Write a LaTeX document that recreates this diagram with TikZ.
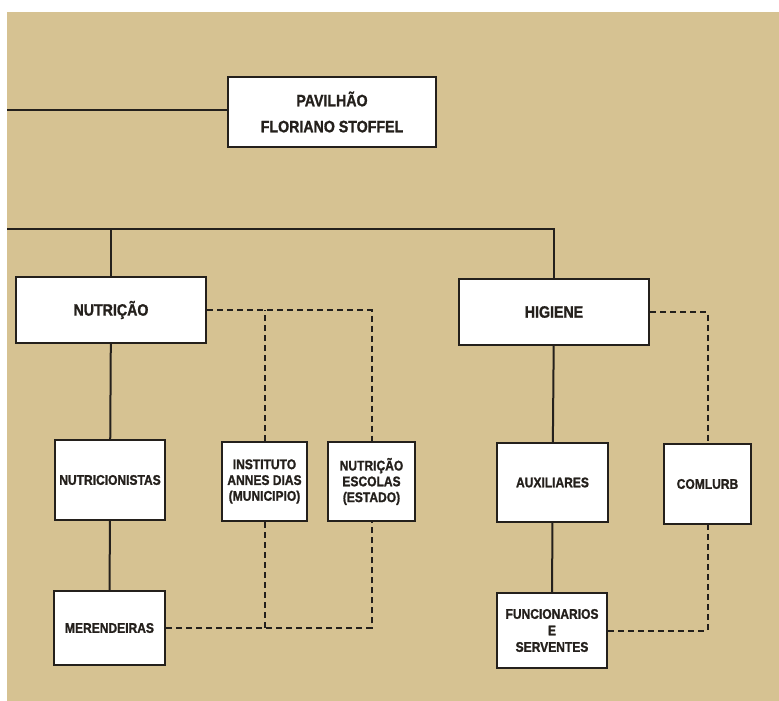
\documentclass[tikz,border=0pt]{standalone}
\usepackage{fontspec}
\setmainfont[FakeStretch=0.86,BoldFeatures={FakeBold=1.2}]{Liberation Sans}
\definecolor{tan}{RGB}{214,194,146}
\definecolor{ink}{RGB}{36,32,28}
\begin{document}
\begin{tikzpicture}[x=1pt,y=-1pt,
  box/.style={draw=ink,line width=2.3pt,fill=white,inner sep=0pt,align=center,
    font=\bfseries\fontsize{14}{15.8}\selectfont,text=ink},
  bigbox/.style={box,font=\bfseries\fontsize{16.5}{26}\selectfont},
  solidline/.style={draw=ink,line width=2pt},
  dashline/.style={draw=ink,line width=2pt,dash pattern=on 6pt off 4pt}]
\useasboundingbox (0,0) rectangle (779,701);
\fill[white] (0,0) rectangle (779,701);
\fill[tan] (7,12) rectangle (779,701);
% nodes
\node[bigbox,minimum width=208pt,minimum height=70pt] (pav) at (332,112) {PAVILHÃO\\FLORIANO STOFFEL};
\node[bigbox,minimum width=190pt,minimum height=66pt] (nut) at (111,310) {NUTRIÇÃO};
\node[bigbox,minimum width=190pt,minimum height=66pt] (hig) at (554,312) {HIGIENE};
\node[box,minimum width=110pt,minimum height=80pt] (nutri) at (110,480) {NUTRICIONISTAS};
\node[box,minimum width=85pt,minimum height=79pt] (inst) at (264.5,481.5) {INSTITUTO\\ANNES DIAS\\(MUNICIPIO)};
\node[box,minimum width=87pt,minimum height=79pt] (esc) at (371.5,481.5) {NUTRIÇÃO\\ESCOLAS\\(ESTADO)};
\node[box,minimum width=111pt,minimum height=74pt] (mer) at (109.5,628) {MERENDEIRAS};
\node[box,minimum width=111pt,minimum height=79pt] (aux) at (552.5,482.5) {AUXILIARES};
\node[box,minimum width=87pt,minimum height=80pt] (com) at (707.5,484) {COMLURB};
\node[box,minimum width=110pt,minimum height=75pt,font=\bfseries\fontsize{14}{16.5}\selectfont] (fun) at (552,630.5) {FUNCIONARIOS\\E\\SERVENTES};
\coordinate (l1) at (7,110);
\coordinate (l2) at (7,229);
% solid connectors
\draw[solidline] (l1) -- (l1 -| pav.west);
\draw[solidline] (l2) -| (hig.north);
\draw[solidline] (nut.north) -- (nut.north |- l2);
\draw[solidline] (nut) -- (nutri);
\draw[solidline] (nutri) -- (mer);
\draw[solidline] (hig) -- (aux);
\draw[solidline] (aux) -- (fun);
% dashed connectors
\draw[dashline] (nut.east) -| (esc.north);
\draw[dashline] (inst.north) -- (inst.north |- nut.east);
\draw[dashline] (mer.east) -| (esc.south);
\draw[dashline] (inst.south) -- (inst.south |- mer.east);
\draw[dashline] (hig.east) -| (com.north);
\draw[dashline] (fun.east) -| (com.south);
\end{tikzpicture}
\end{document}
